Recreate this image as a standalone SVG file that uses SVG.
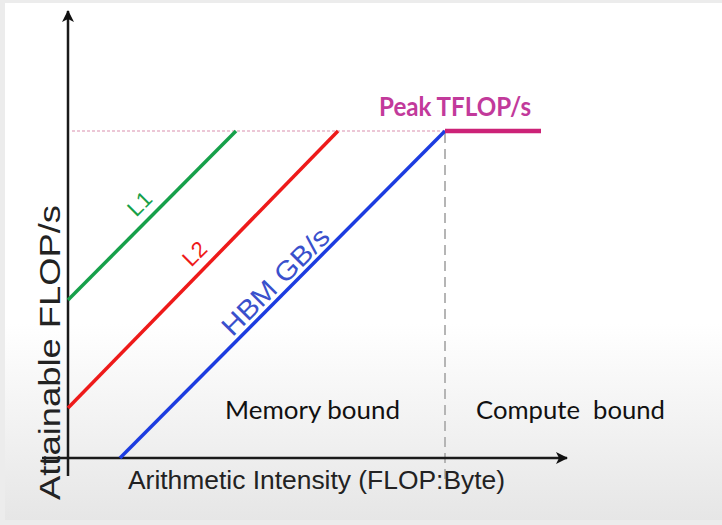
<svg xmlns="http://www.w3.org/2000/svg" width="722" height="525" viewBox="0 0 722 525">
  <defs>
    <linearGradient id="bg" x1="0" y1="0" x2="0" y2="1">
      <stop offset="0" stop-color="#ffffff"/>
      <stop offset="0.62" stop-color="#ffffff"/>
      <stop offset="1" stop-color="#e6e6e6"/>
    </linearGradient>
    <marker id="arrow" viewBox="0 0 12 12" refX="11" refY="6" markerWidth="12" markerHeight="12" markerUnits="userSpaceOnUse" orient="auto">
      <path d="M0,0 L12,6 L0,12 L3,6 Z" fill="#111"/>
    </marker>
  </defs>
  <style>
    .axis { stroke: #1a1a1a; stroke-width: 2.5; fill: none; }
    .roof { stroke-width: 3.5; fill: none; stroke-linecap: butt; }
    .sans { font-family: "Liberation Sans", Arial, sans-serif; }
    .cal { font-family: "Lato", "Open Sans", sans-serif; font-size: 25px; fill: #111; }
  </style>
  <rect x="0" y="0" width="722" height="525" fill="#ececec"/>
  <rect x="5" y="3" width="717" height="517" fill="url(#bg)"/>

  <g id="guides">
    <line x1="72" y1="131" x2="445" y2="131" stroke="#d98fae" stroke-width="1.2" stroke-dasharray="3,2"/>
    <line x1="445" y1="133" x2="445" y2="482" stroke="#b5b5b5" stroke-width="2" stroke-dasharray="10,6"/>
  </g>

  <g id="connectors">
    <line id="y-axis" class="axis" x1="68" y1="476" x2="68" y2="11" marker-end="url(#arrow)"/>
    <line id="x-axis" class="axis" x1="42" y1="458" x2="567" y2="458" marker-end="url(#arrow)"/>
  </g>

  <g id="l1">
    <line class="roof" x1="68" y1="300" x2="236" y2="131" stroke="#16a04a"/>
    <text class="sans" x="0" y="0" font-size="22" fill="#16a04a" text-anchor="middle" transform="translate(145,209) rotate(-45)">L1</text>
  </g>
  <g id="l2">
    <line class="roof" x1="68" y1="408" x2="338" y2="131" stroke="#ee1a1a"/>
    <text class="sans" x="0" y="0" font-size="22" fill="#ee1a1a" text-anchor="middle" transform="translate(200,259) rotate(-45)">L2</text>
  </g>
  <g id="hbm">
    <line class="roof" x1="120" y1="458" x2="445" y2="131" stroke="#1c3ce0"/>
    <text class="sans" x="0" y="0" font-size="27" fill="#3a50cc" text-anchor="middle" textLength="140" lengthAdjust="spacingAndGlyphs" transform="translate(282,288) rotate(-45)">HBM GB/s</text>
  </g>
  <g id="peak">
    <line x1="445" y1="131" x2="541" y2="131" stroke="#cc2277" stroke-width="4.5"/>
    <text x="379" y="116" font-family="Lato, 'Open Sans', sans-serif" font-weight="bold" font-size="27" fill="#c23a9b" textLength="152" lengthAdjust="spacingAndGlyphs">Peak TFLOP/s</text>
  </g>

  <g id="labels">
    <text class="sans" x="0" y="0" font-size="30" fill="#222" textLength="295" lengthAdjust="spacingAndGlyphs" transform="translate(60,500) rotate(-90)">Attainable FLOP/s</text>
    <text class="sans" x="128" y="489" font-size="26" fill="#222" textLength="377" lengthAdjust="spacingAndGlyphs">Arithmetic Intensity (FLOP:Byte)</text>
    <text class="cal" x="225" y="419" textLength="175" lengthAdjust="spacingAndGlyphs">Memory bound</text>
    <text class="cal" x="476" y="419" textLength="189" lengthAdjust="spacingAndGlyphs" xml:space="preserve">Compute  bound</text>
  </g>
</svg>
